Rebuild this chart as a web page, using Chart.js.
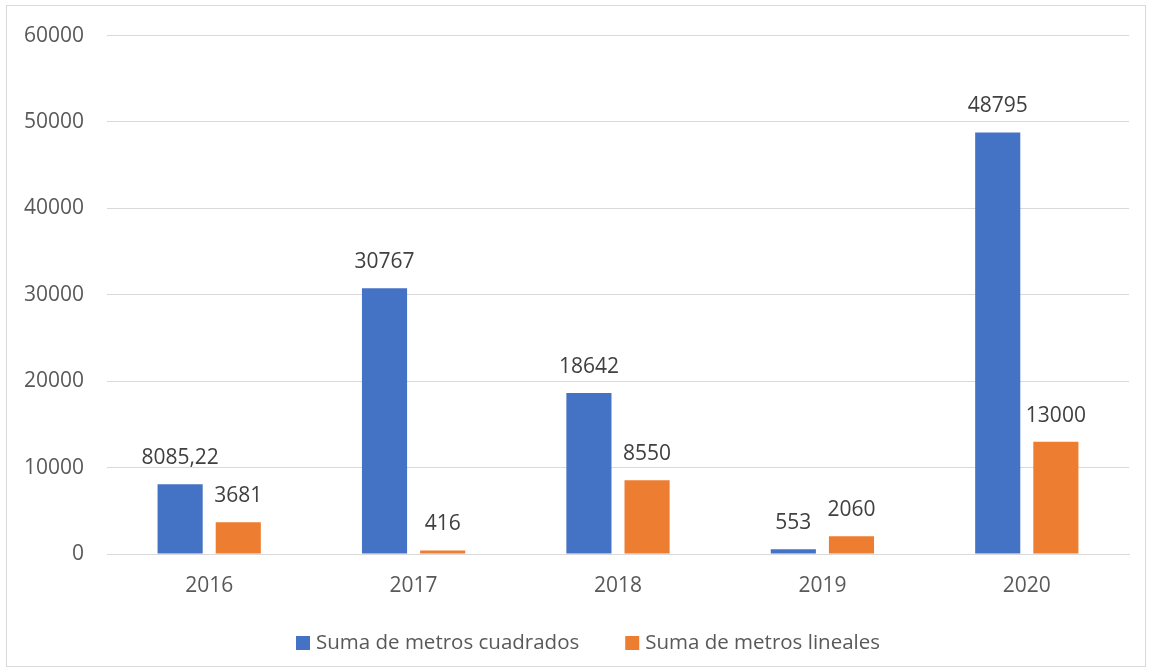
<!DOCTYPE html>
<html><head><meta charset="utf-8">
<script src="https://cdn.jsdelivr.net/npm/chart.js@4.4.1/dist/chart.umd.min.js"></script>
<style>html,body{margin:0;padding:0;background:#fff;overflow:hidden}#wrap{width:1151px;height:672px;position:relative}</style>
</head><body><div id="wrap"><canvas id="c" width="1151" height="672"></canvas></div>
<script>
const categories = ['2016','2017','2018','2019','2020'];
const cuadrados = [8085.22, 30767, 18642, 553, 48795];
const lineales = [3681, 416, 8550, 2060, 13000];
const yTicks = [0,10000,20000,30000,40000,50000,60000];
const seriesNames = ['Suma de metros cuadrados','Suma de metros lineales'];

const FONT = "'Open Sans', sans-serif";
const fmt = v => String(v).replace('.', ',');

const borderPlugin = {
  id:'border',
  beforeDraw(chart){
    const ctx = chart.ctx;
    ctx.save();
    ctx.fillStyle='#fff';ctx.fillRect(0,0,chart.width,chart.height);
    ctx.strokeStyle='#d9d9d9';ctx.lineWidth=1;
    ctx.strokeRect(6.5,5.5,1139,661);
    ctx.restore();
  }
};
const labelPlugin = {
  id:'vlabels',
  afterDatasetsDraw(chart){
    const ctx = chart.ctx;
    ctx.save();
    ctx.font = "21px " + FONT;
    ctx.fillStyle = '#404040';
    ctx.textAlign='center';ctx.textBaseline='middle';
    chart.data.datasets.forEach((ds,i)=>{
      chart.getDatasetMeta(i).data.forEach((bar,j)=>{
        ctx.fillText(fmt(ds.data[j]), bar.x, bar.y - 26);
      });
    });
    ctx.restore();
  }
};
const legendPlugin = {
  id:'customLegend',
  afterDraw(chart){
    const ctx = chart.ctx;
    ctx.save();
    ctx.font = "20.5px " + FONT;
    ctx.textBaseline='middle';ctx.textAlign='left';
    const box=14, gap=6, itemGap=46, cy=643;
    const ds = chart.data.datasets;
    const widths = ds.map(d=>ctx.measureText(d.label).width);
    let total = 0;
    widths.forEach((w,i)=>{ total += box+gap+w + (i<widths.length-1?itemGap:0); });
    let x = 588 - total/2;
    ds.forEach((d,i)=>{
      ctx.fillStyle = d.backgroundColor;
      ctx.fillRect(x, cy-box/2, box, box);
      x += box+gap;
      ctx.fillStyle = '#595959';
      ctx.fillText(d.label, x, cy);
      x += widths[i] + itemGap;
    });
    ctx.restore();
  }
};

new Chart(document.getElementById('c'), {
  type:'bar',
  data:{
    labels:categories,
    datasets:[
      {label:seriesNames[0], data:cuadrados, backgroundColor:'#4472C4'},
      {label:seriesNames[1], data:lineales, backgroundColor:'#ED7D31'}
    ]
  },
  options:{
    responsive:false, animation:false,
    categoryPercentage:0.569, barPercentage:0.776,
    layout:{padding:{left:0,right:22,top:35,bottom:53}},
    plugins:{
      tooltip:{enabled:false},
      legend:{display:false}
    },
    scales:{
      x:{
        grid:{display:false},
        border:{display:true,color:'#d9d9d9'},
        ticks:{font:{family:FONT,size:21},color:'#595959',padding:11},
        afterFit(s){s.height=65;}
      },
      y:{
        min:0,max:60000,
        afterBuildTicks(s){s.ticks = yTicks.map(v=>({value:v}));},
        grid:{color:'#d9d9d9',drawTicks:false},
        border:{display:false},
        ticks:{font:{family:FONT,size:21},color:'#595959',padding:23,callback:v=>String(v)},
        afterFit(s){s.width=107;}
      }
    }
  },
  plugins:[borderPlugin,labelPlugin,legendPlugin]
});
</script></body></html>
